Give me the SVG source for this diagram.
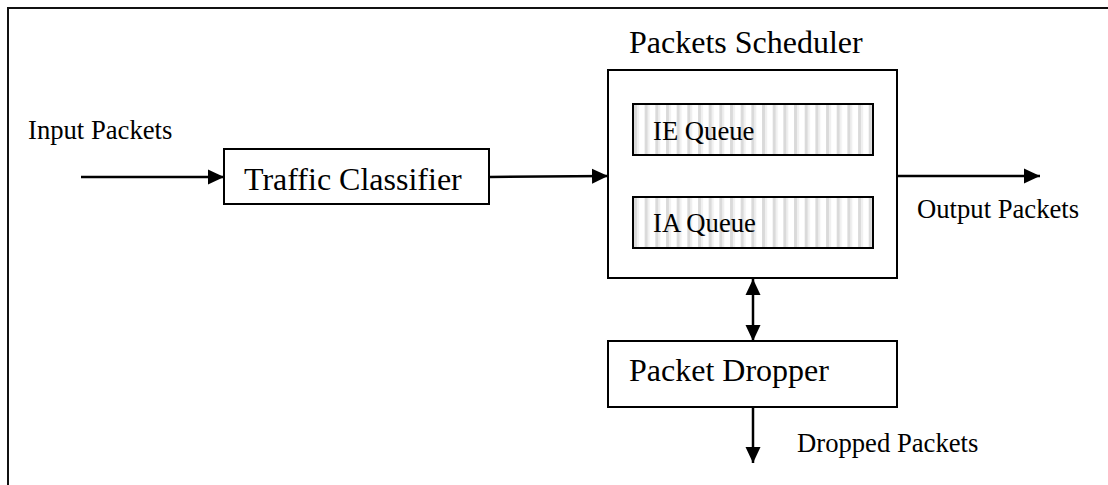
<svg xmlns="http://www.w3.org/2000/svg" width="1108" height="485" viewBox="0 0 1108 485">
<style>
.box{fill:#fff;stroke:#000;stroke-width:2}
.q{fill:url(#stripes);stroke:#000;stroke-width:2}
.big{font-family:"Liberation Serif","Times New Roman",serif;font-size:32px;fill:#000}
.small{font-family:"Liberation Serif","Times New Roman",serif;font-size:26.67px;fill:#000}
.ln{stroke:#000;stroke-width:2.5;fill:none}
</style>
<defs>
<pattern id="stripes" patternUnits="userSpaceOnUse" x="633" y="0" width="10.67" height="10">
<rect x="0" y="0" width="10.67" height="10" fill="#fff"/>
<rect x="1" y="0" width="3" height="10" fill="#dadada"/>
<rect x="4" y="0" width="2" height="10" fill="#efefef"/>
</pattern>
<marker id="ah" markerUnits="userSpaceOnUse" markerWidth="16" markerHeight="16" refX="16" refY="8" orient="auto-start-reverse" viewBox="0 0 16 16">
<path d="M0,0.5 L16,8 L0,15.5 z" fill="#000"/>
</marker>
</defs>
<rect x="8" y="8" width="1120" height="500" fill="#fff" stroke="#111" stroke-width="2"/>
<g id="input-label"><text class="small" x="28" y="139">Input Packets</text></g>
<g id="traffic-classifier">
<rect class="box" x="224" y="149" width="265" height="55"/>
<text class="big" x="244" y="190">Traffic Classifier</text>
</g>
<g id="packets-scheduler">
<text class="big" x="629" y="53">Packets Scheduler</text>
<rect class="box" x="608" y="70" width="289" height="208"/>
<g id="ie-queue">
<rect class="q" x="633" y="104" width="240" height="51"/>
<text class="small" x="653" y="140">IE Queue</text>
</g>
<g id="ia-queue">
<rect class="q" x="633" y="197" width="240" height="51"/>
<text class="small" x="653" y="232">IA Queue</text>
</g>
</g>
<g id="packet-dropper">
<rect class="box" x="608" y="341" width="289" height="66"/>
<text class="big" x="629" y="381">Packet Dropper</text>
</g>
<g id="output-label"><text class="small" x="917" y="218">Output Packets</text></g>
<g id="dropped-label"><text class="small" x="797" y="452">Dropped Packets</text></g>
<g id="connectors">
<line class="ln" x1="81" y1="177" x2="224" y2="177" marker-end="url(#ah)"/>
<line class="ln" x1="489" y1="177" x2="608" y2="176" marker-end="url(#ah)"/>
<line class="ln" x1="897" y1="176" x2="1040" y2="176" marker-end="url(#ah)"/>
<line class="ln" x1="753" y1="279" x2="753" y2="341" marker-start="url(#ah)" marker-end="url(#ah)"/>
<line class="ln" x1="753" y1="407" x2="753" y2="463" marker-end="url(#ah)"/>
</g>
</svg>
